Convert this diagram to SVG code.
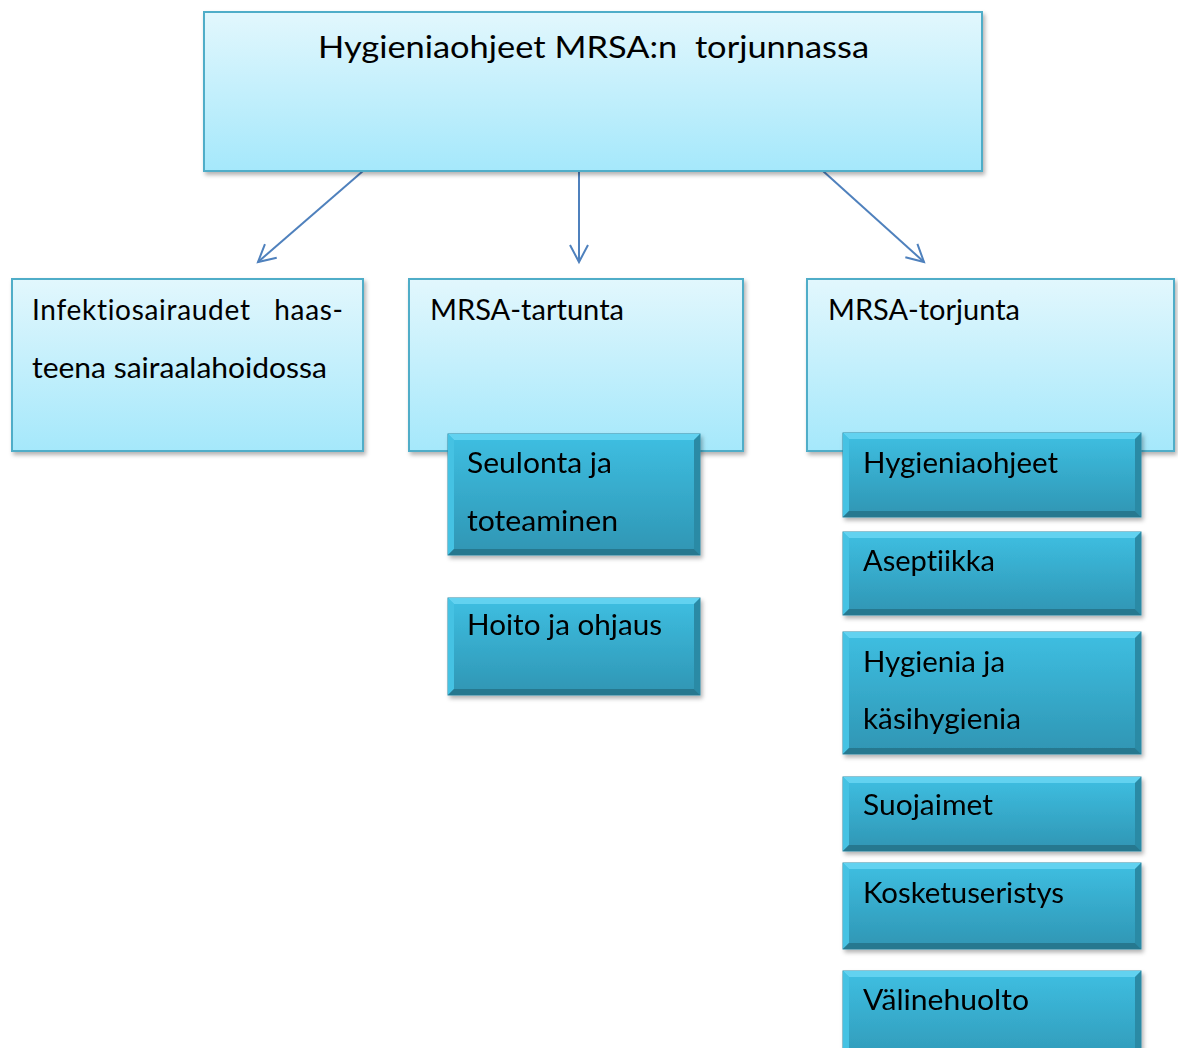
<svg xmlns="http://www.w3.org/2000/svg" width="1178" height="1048" viewBox="0 0 1178 1048">
<style>
.light{stroke:#4fadc8;stroke-width:2;fill:url(#gLight);filter:url(#sh)}
.dark{fill:url(#gDark);stroke:#2b8aa6;stroke-width:1}
.bt{fill:#62d2f0}
.bl{fill:#44c2e3}
.br{fill:#2b8aa5}
.bb{fill:#26788f}
.t{font-family:Lato,"Open Sans","Liberation Sans",sans-serif;font-size:28px;fill:#000;white-space:pre;font-variant-ligatures:none;font-feature-settings:"liga" 0,"dlig" 0}
.title{font-size:31px}
.con{stroke:#4f81bd;stroke-width:2;fill:none;marker-end:url(#arr)}
</style>
<defs>
<linearGradient id="gLight" x1="0" y1="0" x2="0" y2="1">
<stop offset="0" stop-color="#e2f7fd"/>
<stop offset="1" stop-color="#a5e8fb"/>
</linearGradient>
<linearGradient id="gDark" x1="0" y1="0" x2="0" y2="1">
<stop offset="0" stop-color="#3ebfe2"/>
<stop offset="1" stop-color="#2f95b3"/>
</linearGradient>
<filter id="sh" x="-5%" y="-5%" width="115%" height="120%">
<feDropShadow dx="2" dy="3" stdDeviation="2" flood-color="#000" flood-opacity="0.3"/>
</filter>
<marker id="arr" markerUnits="userSpaceOnUse" viewBox="-20 -12 24 24" refX="0" refY="0" markerWidth="24" markerHeight="24" orient="auto">
<path d="M-17,-9 L0,0 L-17,9" fill="none" stroke="#4f81bd" stroke-width="2"/>
</marker>
</defs>

<g id="connectors">
<line class="con" x1="363" y1="171" x2="258" y2="262"/>
<line class="con" x1="579" y1="171" x2="579" y2="262"/>
<line class="con" x1="823" y1="171" x2="924" y2="262"/>
</g>

<g id="n-title">
<rect class="light" x="204" y="12" width="778" height="159"/>
<text class="t title" x="318" y="58" textLength="551" lengthAdjust="spacingAndGlyphs" xml:space="preserve">Hygieniaohjeet MRSA:n  torjunnassa</text>
</g>

<g id="n-infektio">
<rect class="light" x="12" y="279" width="351" height="172"/>
<text class="t" x="32" y="320" textLength="311" lengthAdjust="spacing" xml:space="preserve">Infektiosairaudet   haas-</text>
<text class="t" x="32" y="378" textLength="295" lengthAdjust="spacingAndGlyphs">teena sairaalahoidossa</text>
</g>

<g id="n-tartunta">
<rect class="light" x="409" y="279" width="334" height="172"/>
<text class="t" x="430" y="320" textLength="194" lengthAdjust="spacingAndGlyphs">MRSA-tartunta</text>
</g>

<g id="n-torjunta">
<rect class="light" x="807" y="279" width="367" height="172"/>
<text class="t" x="828" y="320" textLength="192" lengthAdjust="spacingAndGlyphs">MRSA-torjunta</text>
</g>

<g id="n-seulonta" filter="url(#sh)">
<rect class="dark" x="448" y="434" width="252" height="121"/>
<polygon class="bt" points="448,434 700,434 694,440 454,440"/>
<polygon class="bl" points="448,434 454,440 454,549 448,555"/>
<polygon class="br" points="700,434 700,555 694,549 694,440"/>
<polygon class="bb" points="448,555 454,549 694,549 700,555"/>
<text class="t" x="467" y="473" textLength="145" lengthAdjust="spacingAndGlyphs">Seulonta ja</text>
<text class="t" x="467" y="531" textLength="151" lengthAdjust="spacingAndGlyphs">toteaminen</text>
</g>

<g id="n-hoito" filter="url(#sh)">
<rect class="dark" x="448" y="598" width="252" height="97"/>
<polygon class="bt" points="448,598 700,598 694,604 454,604"/>
<polygon class="bl" points="448,598 454,604 454,689 448,695"/>
<polygon class="br" points="700,598 700,695 694,689 694,604"/>
<polygon class="bb" points="448,695 454,689 694,689 700,695"/>
<text class="t" x="467" y="635" textLength="195" lengthAdjust="spacingAndGlyphs">Hoito ja ohjaus</text>
</g>

<g id="n-hygieniaohjeet" filter="url(#sh)">
<rect class="dark" x="843" y="433" width="298" height="84"/>
<polygon class="bt" points="843,433 1141,433 1135,439 849,439"/>
<polygon class="bl" points="843,433 849,439 849,511 843,517"/>
<polygon class="br" points="1141,433 1141,517 1135,511 1135,439"/>
<polygon class="bb" points="843,517 849,511 1135,511 1141,517"/>
<text class="t" x="863" y="473" textLength="195" lengthAdjust="spacingAndGlyphs">Hygieniaohjeet</text>
</g>

<g id="n-aseptiikka" filter="url(#sh)">
<rect class="dark" x="843" y="532" width="298" height="83"/>
<polygon class="bt" points="843,532 1141,532 1135,538 849,538"/>
<polygon class="bl" points="843,532 849,538 849,609 843,615"/>
<polygon class="br" points="1141,532 1141,615 1135,609 1135,538"/>
<polygon class="bb" points="843,615 849,609 1135,609 1141,615"/>
<text class="t" x="863" y="571" textLength="132" lengthAdjust="spacingAndGlyphs">Aseptiikka</text>
</g>

<g id="n-kasihygienia" filter="url(#sh)">
<rect class="dark" x="843" y="632" width="298" height="122"/>
<polygon class="bt" points="843,632 1141,632 1135,638 849,638"/>
<polygon class="bl" points="843,632 849,638 849,748 843,754"/>
<polygon class="br" points="1141,632 1141,754 1135,748 1135,638"/>
<polygon class="bb" points="843,754 849,748 1135,748 1141,754"/>
<text class="t" x="863" y="672" textLength="142" lengthAdjust="spacingAndGlyphs">Hygienia ja</text>
<text class="t" x="863" y="729" textLength="158" lengthAdjust="spacingAndGlyphs">käsihygienia</text>
</g>

<g id="n-suojaimet" filter="url(#sh)">
<rect class="dark" x="843" y="777" width="298" height="74"/>
<polygon class="bt" points="843,777 1141,777 1135,783 849,783"/>
<polygon class="bl" points="843,777 849,783 849,845 843,851"/>
<polygon class="br" points="1141,777 1141,851 1135,845 1135,783"/>
<polygon class="bb" points="843,851 849,845 1135,845 1141,851"/>
<text class="t" x="863" y="815" textLength="130" lengthAdjust="spacingAndGlyphs">Suojaimet</text>
</g>

<g id="n-kosketuseristys" filter="url(#sh)">
<rect class="dark" x="843" y="863" width="298" height="86"/>
<polygon class="bt" points="843,863 1141,863 1135,869 849,869"/>
<polygon class="bl" points="843,863 849,869 849,943 843,949"/>
<polygon class="br" points="1141,863 1141,949 1135,943 1135,869"/>
<polygon class="bb" points="843,949 849,943 1135,943 1141,949"/>
<text class="t" x="863" y="903" textLength="201" lengthAdjust="spacingAndGlyphs">Kosketuseristys</text>
</g>

<g id="n-valinehuolto" filter="url(#sh)">
<rect class="dark" x="843" y="971" width="298" height="100"/>
<polygon class="bt" points="843,971 1141,971 1135,977 849,977"/>
<polygon class="bl" points="843,971 849,977 849,1071 843,1071"/>
<polygon class="br" points="1141,971 1141,1071 1135,1071 1135,977"/>
<text class="t" x="863" y="1010" textLength="166" lengthAdjust="spacingAndGlyphs">Välinehuolto</text>
</g>
</svg>
